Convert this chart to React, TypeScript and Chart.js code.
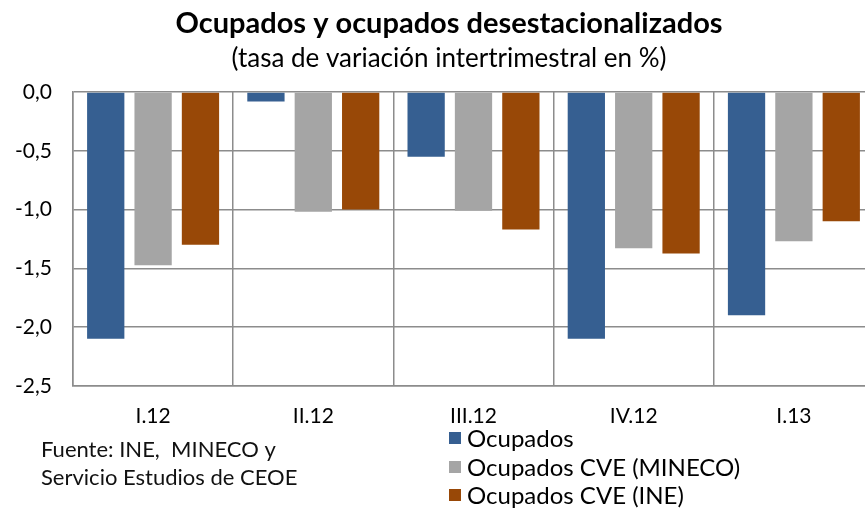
import React, { useEffect, useRef } from "react";
import { Chart, registerables } from "chart.js";

Chart.register(...registerables);

const categories = ["I.12", "II.12", "III.12", "IV.12", "I.13"];
const ocupados = [-2.1, -0.08, -0.55, -2.1, -1.9];
const ocupadosCveMineco = [-1.475, -1.02, -1.01, -1.33, -1.27];
const ocupadosCveIne = [-1.3, -1.0, -1.17, -1.375, -1.1];
const seriesNames = ["Ocupados", "Ocupados CVE (MINECO)", "Ocupados CVE (INE)"];
const seriesColors = ["#365F91", "#A5A5A5", "#984807"];
const titleText = "Ocupados y ocupados desestacionalizados";
const subtitleText = "(tasa de variación intertrimestral en %)";
const sourceLines = ["Fuente: INE,  MINECO y", "Servicio Estudios de CEOE"];

const FONT = "Lato, 'Open Sans', sans-serif";

const fmt = (v: number) => {
  const s = Math.abs(v).toFixed(1).replace(".", ",");
  return v < -1e-9 ? "-" + s : s;
};

const extrasPlugin = {
  id: "extras",
  afterLayout(chart: any) {
    // let the y labels use the space left of the axis without being clipped
    const y = chart.scales.y;
    y.left = 0;
    y.width = y.right;
  },
  afterDraw(chart: any) {
    const ctx = chart.ctx;
    ctx.save();
    ctx.textBaseline = "middle";
    ctx.textAlign = "left";
    // legend (vertical)
    ctx.font = `24px ${FONT}`;
    const items = chart.data.datasets;
    const ys = [438, 467, 495];
    items.forEach((ds: any, i: number) => {
      ctx.fillStyle = ds.backgroundColor;
      ctx.fillRect(449, ys[i] - 6, 12, 12);
      ctx.fillStyle = "#000";
      ctx.fillText(ds.label, 467, ys[i] + 1);
    });
    // source
    ctx.font = `22px ${FONT}`;
    ctx.fillStyle = "#111";
    ctx.fillText(sourceLines[0], 41, 450);
    ctx.fillText(sourceLines[1], 41, 478);
    ctx.restore();
  },
};

export default function App() {
  const ref = useRef<HTMLCanvasElement | null>(null);
  useEffect(() => {
    if (!ref.current) return;
    const chart = new Chart(ref.current, {
      type: "bar",
      data: {
        labels: categories,
        datasets: [ocupados, ocupadosCveMineco, ocupadosCveIne].map((d, i) => ({
          label: seriesNames[i],
          data: d,
          backgroundColor: seriesColors[i],
          borderWidth: 0,
          categoryPercentage: 0.887,
          barPercentage: 0.787,
        })),
      },
      options: {
        animation: false,
        responsive: false,
        maintainAspectRatio: false,
        layout: { padding: { left: 24, right: 6, top: 0, bottom: 61 } },
        plugins: {
          legend: { display: false },
          tooltip: { enabled: false },
          title: {
            display: true,
            text: titleText,
            color: "#000",
            font: { family: FONT, size: 29, weight: "bold" },
            padding: { top: 6, bottom: 1 },
          },
          subtitle: {
            display: true,
            text: subtitleText,
            color: "#000",
            font: { family: FONT, size: 26 },
            padding: { top: 1, bottom: 18 },
          },
        },
        scales: {
          x: {
            grid: { color: "#8C8C8C", lineWidth: 1.5, drawTicks: false, offset: true },
            border: { color: "#8C8C8C", width: 1.5 },
            ticks: { color: "#000", font: { family: FONT, size: 21 }, padding: 18 },
          },
          y: {
            min: -2.5,
            max: 0,
            afterFit(scale: any) {
              scale.width = 49;
            },
            grid: { color: "#8C8C8C", lineWidth: 1.5, drawTicks: false },
            border: { color: "#8C8C8C", width: 1.5 },
            ticks: {
              stepSize: 0.5,
              color: "#000",
              padding: 21,
              font: { family: FONT, size: 21 },
              callback: (v: any) => fmt(Number(v)),
            },
          },
        },
      },
      plugins: [extrasPlugin],
    });
    return () => chart.destroy();
  }, []);
  return (
    <div style={{ position: "fixed", left: 0, top: 0, width: 865, height: 508, overflow: "hidden", background: "#fff" }}>
      <canvas ref={ref} width={880} height={508} style={{ width: 880, height: 508, display: "block" }} />
    </div>
  );
}
